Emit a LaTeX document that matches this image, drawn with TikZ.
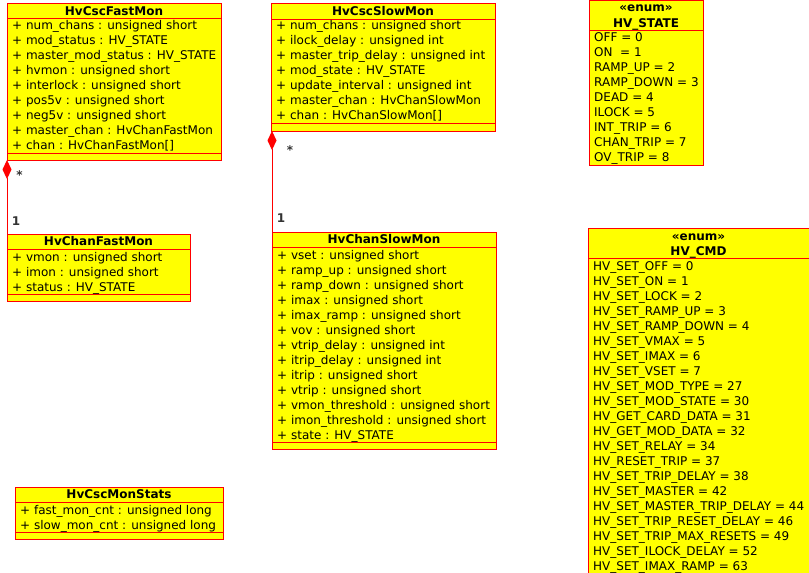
\documentclass[tikz,border=0pt]{standalone}
\usepackage{fontspec}
\setmainfont{DejaVu Sans}
\usetikzlibrary{arrows.meta}
\definecolor{umlred}{HTML}{FF0000}
\definecolor{umlyellow}{HTML}{FFFF00}
\definecolor{multgray}{HTML}{333333}
\newcommand{\sepline}[2]{\draw[sepl] ([yshift=-#2pt]#1.north west) -- ([yshift=-#2pt]#1.north east);}
\newcommand{\attrlines}[4]{%
  \foreach \t [count=\i] in {#4} {
    \node[attr] (#1\i) at (#2, {#3+15*(\i-1)}) {\t};
  }}
\begin{document}
\begin{tikzpicture}[x=1pt,y=-1pt,
  classrect/.style={draw=umlred,fill=umlyellow,line width=1pt,anchor=north west,inner sep=0pt,outer sep=0pt},
  sepl/.style={draw=umlred,line width=1pt},
  attr/.style={anchor=base west,inner sep=0pt,font=\fontsize{12}{15}\selectfont},
  ctitle/.style={anchor=base,inner sep=0pt,font=\fontsize{12}{15}\selectfont\bfseries},
  mult/.style={anchor=base,inner sep=0pt,text=multgray,font=\fontsize{12}{15}\selectfont\bfseries},
  comp/.style={draw=umlred,line width=1pt,{Diamond[length=19pt,width=9pt,fill=umlred]}-}
]
\useasboundingbox (0,0) rectangle (809,573);
\clip (0,0) rectangle (809,573);

% HvCscFastMon
\node[classrect,minimum width=214pt,minimum height=157pt] (fast) at (7,3) {};
\sepline{fast}{15.5}
\sepline{fast}{150}
\node[ctitle] (fastT) at (114,15) {HvCscFastMon};
\attrlines{fa}{12}{29.7}{+ num\_chans : unsigned short,+ mod\_status : HV\_STATE,+ master\_mod\_status : HV\_STATE,+ hvmon : unsigned short,+ interlock : unsigned short,+ pos5v : unsigned short,+ neg5v : unsigned short,+ master\_chan : HvChanFastMon,+ chan : HvChanFastMon[]}

% HvCscSlowMon
\node[classrect,minimum width=224pt,minimum height=128pt] (slow) at (271,3) {};
\sepline{slow}{16}
\sepline{slow}{120.5}
\node[ctitle] (slowT) at (383,15) {HvCscSlowMon};
\attrlines{sa}{276}{29.7}{+ num\_chans : unsigned short,+ ilock\_delay : unsigned int,+ master\_trip\_delay : unsigned int,+ mod\_state : HV\_STATE,+ update\_interval : unsigned int,+ master\_chan : HvChanSlowMon,+ chan : HvChanSlowMon[]}

% HV_STATE
\node[classrect,minimum width=114pt,minimum height=165pt] (state) at (589,0.5) {};
\sepline{state}{29.5}
\node[ctitle] (stateS) at (646,11.5) {«enum»};
\node[ctitle] (stateT) at (646,27.5) {HV\_STATE};
\attrlines{st}{594}{41.7}{OFF = 0,ON\ \ = 1,RAMP\_UP = 2,RAMP\_DOWN = 3,DEAD = 4,ILOCK = 5,INT\_TRIP = 6,CHAN\_TRIP = 7,OV\_TRIP = 8}

% HvChanFastMon
\node[classrect,minimum width=183pt,minimum height=67pt] (cfast) at (7,234) {};
\sepline{cfast}{15}
\sepline{cfast}{60}
\node[ctitle] (cfastT) at (98.5,245.7) {HvChanFastMon};
\attrlines{cf}{12}{261}{+ vmon : unsigned short,+ imon : unsigned short,+ status : HV\_STATE}

% HvChanSlowMon
\node[classrect,minimum width=224pt,minimum height=217pt] (cslow) at (272,232) {};
\sepline{cslow}{15}
\sepline{cslow}{210}
\node[ctitle] (cslowT) at (384,243.7) {HvChanSlowMon};
\attrlines{cs}{277}{259}{+ vset : unsigned short,+ ramp\_up : unsigned short,+ ramp\_down : unsigned short,+ imax : unsigned short,+ imax\_ramp : unsigned short,+ vov : unsigned short,+ vtrip\_delay : unsigned int,+ itrip\_delay : unsigned int,+ itrip : unsigned short,+ vtrip : unsigned short,+ vmon\_threshold : unsigned short,+ imon\_threshold : unsigned short,+ state : HV\_STATE}

% HvCscMonStats
\node[classrect,minimum width=208pt,minimum height=52pt] (stats) at (15,487) {};
\sepline{stats}{15}
\sepline{stats}{45}
\node[ctitle] (statsT) at (119,498.3) {HvCscMonStats};
\attrlines{ms}{20}{514}{+ fast\_mon\_cnt : unsigned long,+ slow\_mon\_cnt : unsigned long}

% HV_CMD
\node[classrect,minimum width=226pt,minimum height=352pt] (cmd) at (588,228) {};
\sepline{cmd}{30}
\node[ctitle] (cmdS) at (698.5,240) {«enum»};
\node[ctitle] (cmdT) at (698.5,255) {HV\_CMD};
\attrlines{hc}{593}{270}{HV\_SET\_OFF = 0,HV\_SET\_ON = 1,HV\_SET\_LOCK = 2,HV\_SET\_RAMP\_UP = 3,HV\_SET\_RAMP\_DOWN = 4,HV\_SET\_VMAX = 5,HV\_SET\_IMAX = 6,HV\_SET\_VSET = 7,HV\_SET\_MOD\_TYPE = 27,HV\_SET\_MOD\_STATE = 30,HV\_GET\_CARD\_DATA = 31,HV\_GET\_MOD\_DATA = 32,HV\_SET\_RELAY = 34,HV\_RESET\_TRIP = 37,HV\_SET\_TRIP\_DELAY = 38,HV\_SET\_MASTER = 42,HV\_SET\_MASTER\_TRIP\_DELAY = 44,HV\_SET\_TRIP\_RESET\_DELAY = 46,HV\_SET\_TRIP\_MAX\_RESETS = 49,HV\_SET\_ILOCK\_DELAY = 52,HV\_SET\_IMAX\_RAMP = 63}

% compositions
\draw[comp] (fast.south west) -- (cfast.north west);
\node[mult] (m1) at (19.5,179) {*};
\node[mult] (m2) at (16,225) {1};
\coordinate (slowC) at ([xshift=1pt]slow.south west);
\draw[comp] (slowC) -- (cslow.north west);
\node[mult] (m3) at (290,154.5) {*};
\node[mult] (m4) at (281,222.3) {1};
\end{tikzpicture}
\end{document}
